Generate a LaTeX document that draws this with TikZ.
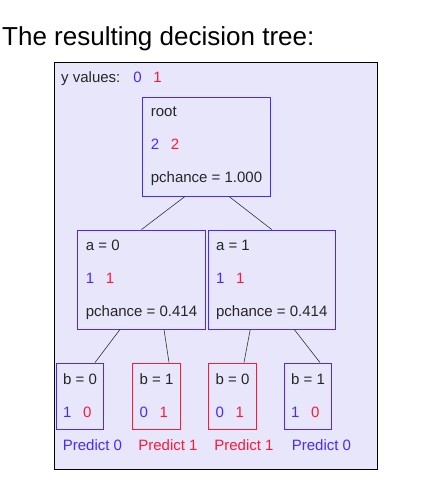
\documentclass[tikz,border=0pt]{standalone}
\usepackage{fontspec}
\setmainfont{Liberation Sans}
\usetikzlibrary{positioning,calc}

\definecolor{panelbg}{RGB}{232,230,250}
\definecolor{nblue}{RGB}{75,40,255}
\definecolor{nred}{RGB}{255,25,55}
\definecolor{edgegray}{RGB}{50,50,50}

% two counts on a line, blue then red
\newcommand{\ycounts}[2]{\makebox[20pt][l]{\color{nblue}#1}{\color{nred}#2}}

\begin{document}
\begin{tikzpicture}[x=1pt, y=-1pt]
    \tikzset{
        inner/.style = {rectangle, draw=nblue, line width=0.9pt, align=left, inner xsep=8pt, minimum height=99pt, font=\fontsize{15}{33}\selectfont, text=black!85},
        leafblue/.style = {rectangle, draw=nblue, line width=0.9pt, align=left, inner xsep=7pt, minimum height=66pt, font=\fontsize{15}{33}\selectfont, text=black!85},
        leafred/.style = {leafblue, draw=nred},
        pred/.style = {anchor=base west, inner sep=0pt, font=\fontsize{15}{18}\selectfont},
        link/.style = {draw=edgegray, line width=0.6pt}
    }
    \useasboundingbox (0,0) rectangle (425,483);

    \node [anchor=base west, inner sep=0pt, font=\fontsize{26}{30}\selectfont] (title) at (2,45) {The resulting decision tree:};
    \node [draw=black, line width=0.9pt, fill=panelbg, minimum width=323pt, minimum height=407pt, inner sep=0pt, anchor=north west] (panel) at (54,62) {};

    \node [anchor=base west, inner sep=0pt, font=\fontsize{15}{18}\selectfont, text=black!85] (yvals) at (61,82) {y values:\hspace{13pt}\ycounts{0}{1}};

    % tree nodes
    \node [inner] (root) at (206.5,146.5) {root\\\ycounts{2}{2}\\pchance = 1.000};
    \node [inner] (a0) at (141.5,279.5) {a = 0\\\ycounts{1}{1}\\pchance = 0.414};
    \node [inner, right=2pt of a0] (a1) {a = 1\\\ycounts{1}{1}\\pchance = 0.414};

    \node [leafblue] (b00) at (80,396) {b = 0\\\ycounts{1}{0}};
    \node [leafred] (b01) at (156.5,396) {b = 1\\\ycounts{0}{1}};
    \node [leafred] (b10) at (232.5,396) {b = 0\\\ycounts{0}{1}};
    \node [leafblue] (b11) at (308,396) {b = 1\\\ycounts{1}{0}};

    % predictions
    \node [pred, text=nblue] (p00) at ($(b00.south west)+(7,21)$) {Predict 0};
    \node [pred, text=nred] (p01) at ($(b01.south west)+(6,21)$) {Predict 1};
    \node [pred, text=nred] (p10) at ($(b10.south west)+(6,21)$) {Predict 1};
    \node [pred, text=nblue] (p11) at ($(b11.south west)+(8,21)$) {Predict 0};

    % branches
    \path [link] ([xshift=-21.5pt]root.south) -- (a0.north);
    \path [link] ([xshift=22.5pt]root.south) -- (a1.north);
    \path [link] ([xshift=-21.5pt]a0.south) -- ([xshift=15pt]b00.north);
    \path [link] ([xshift=22.5pt]a0.south) -- ([xshift=12.5pt]b01.north);
    \path [link] ([xshift=-21.5pt]a1.south) -- ([xshift=11.5pt]b10.north);
    \path [link] ([xshift=22.5pt]a1.south) -- ([xshift=12pt]b11.north);
\end{tikzpicture}
\end{document}
